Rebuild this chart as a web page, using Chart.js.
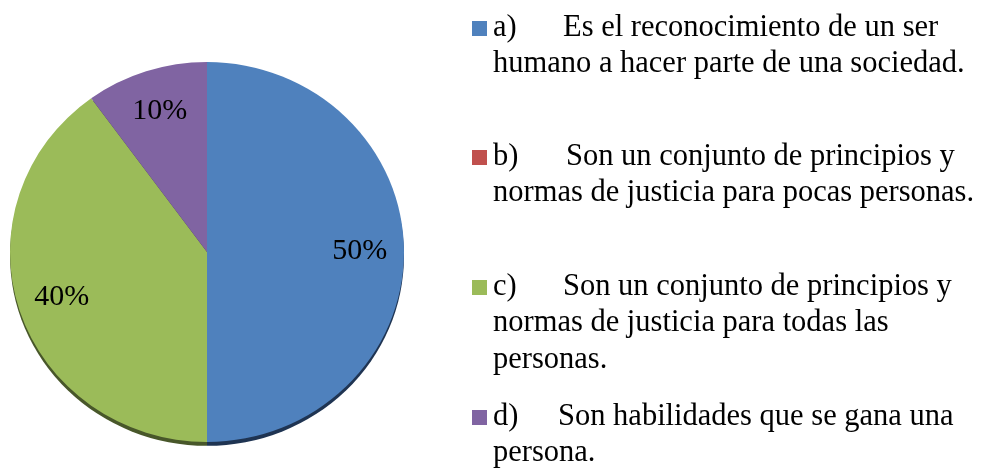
<!DOCTYPE html>
<html>
<head>
<meta charset="utf-8">
<script src="https://cdn.jsdelivr.net/npm/chart.js@4.4.0/dist/chart.umd.min.js"></script>
<style>
    html, body { margin: 0; padding: 0; background: #fff; }
    #wrap { position: relative; width: 1007px; height: 470px; overflow: hidden; }
    #pie { position: absolute; left: 10px; top: 55px; }
    #legend { position: absolute; left: 0; top: 0; width: 1007px; height: 470px;
        font-family: "Liberation Serif", "Times New Roman", serif; font-size: 30.5px;
        line-height: 36.5px; color: #000; }
    .item { position: absolute; left: 472px; padding-left: 21px; white-space: nowrap; }
    .box { position: absolute; left: 0; top: 13px; width: 15px; height: 15px; }
    .key { display: inline-block; }
</style>
</head>
<body>
<div id="wrap">
    <canvas id="pie" width="394" height="394"></canvas>
    <div id="legend"></div>
</div>
<script>
// Data
const keys = ['a)', 'b)', 'c)', 'd)'];
const labels = [
    ['Es el reconocimiento de un ser', 'humano a hacer parte de una sociedad.'],
    ['Son un conjunto de principios y', 'normas de justicia para pocas personas.'],
    ['Son un conjunto de principios y', 'normas de justicia para todas las', 'personas.'],
    ['Son habilidades que se gana una', 'persona.']
];
const values = [50, 0, 40, 10];
const sliceColors = ['#4f81bd', '#c0504d', '#9bbb59', '#8064a2'];
const shadowColors = ['#1f3452', '#4a2020', '#48572a', '#3c2f4d'];

// Layout
const squash = 380 / 394;
const legendTops = [7.5, 136.5, 266.5, 396.5];
const keyWidths = [70, 73, 70, 65];

// Slightly flattened pie with a dark rim at the bottom
const tiltPlugin = {
    id: 'tilt',
    beforeDatasetsDraw(chart) {
        const ctx = chart.ctx;
        const arcs = chart.getDatasetMeta(0).data;
        const cx = arcs[0].x, cy = arcs[0].y;
        ctx.save();
        ctx.translate(cx, cy);
        ctx.scale(1, squash);
        ctx.translate(-cx, -cy);
        // rim
        ctx.save();
        ctx.translate(0, 4);
        arcs.forEach((arc, i) => {
            if (arc.endAngle - arc.startAngle <= 0) return;
            ctx.beginPath();
            ctx.moveTo(cx, cy);
            ctx.arc(cx, cy, arc.outerRadius, arc.startAngle, arc.endAngle);
            ctx.closePath();
            ctx.fillStyle = shadowColors[i];
            ctx.fill();
        });
        ctx.restore();
    },
    afterDatasetsDraw(chart) {
        const ctx = chart.ctx;
        ctx.restore();
        // percentage labels
        const arcs = chart.getDatasetMeta(0).data;
        const total = values.reduce((a, b) => a + b, 0);
        ctx.save();
        ctx.font = '30px "Liberation Serif", "Times New Roman", serif';
        ctx.fillStyle = '#000';
        ctx.textAlign = 'center';
        ctx.textBaseline = 'alphabetic';
        arcs.forEach((arc, i) => {
            if (!values[i]) return;
            const mid = (arc.startAngle + arc.endAngle) / 2;
            const r = arc.outerRadius * 0.775;
            const x = arc.x + Math.cos(mid) * r;
            const y = arc.y + Math.sin(mid) * r * squash;
            ctx.fillText(Math.round(values[i] / total * 100) + '%', x, y + 7);
        });
        ctx.restore();
    }
};

const chart = new Chart(document.getElementById('pie').getContext('2d'), {
    type: 'pie',
    data: {
        labels: labels,
        datasets: [{
            data: values,
            backgroundColor: sliceColors,
            borderWidth: 0,
            hoverOffset: 0
        }]
    },
    options: {
        responsive: false,
        animation: false,
        layout: { padding: 0 },
        plugins: {
            legend: { display: false },
            tooltip: { enabled: false }
        }
    },
    plugins: [tiltPlugin]
});

// HTML legend
const legend = document.getElementById('legend');
chart.data.labels.forEach((lines, i) => {
    const item = document.createElement('div');
    item.className = 'item';
    item.style.top = legendTops[i] + 'px';
    const box = document.createElement('span');
    box.className = 'box';
    box.style.background = chart.data.datasets[0].backgroundColor[i];
    item.appendChild(box);
    const key = document.createElement('span');
    key.className = 'key';
    key.style.width = keyWidths[i] + 'px';
    key.textContent = keys[i];
    item.appendChild(key);
    lines.forEach((line, j) => {
        if (j > 0) item.appendChild(document.createElement('br'));
        item.appendChild(document.createTextNode(line));
    });
    legend.appendChild(item);
});
</script>
</body>
</html>
